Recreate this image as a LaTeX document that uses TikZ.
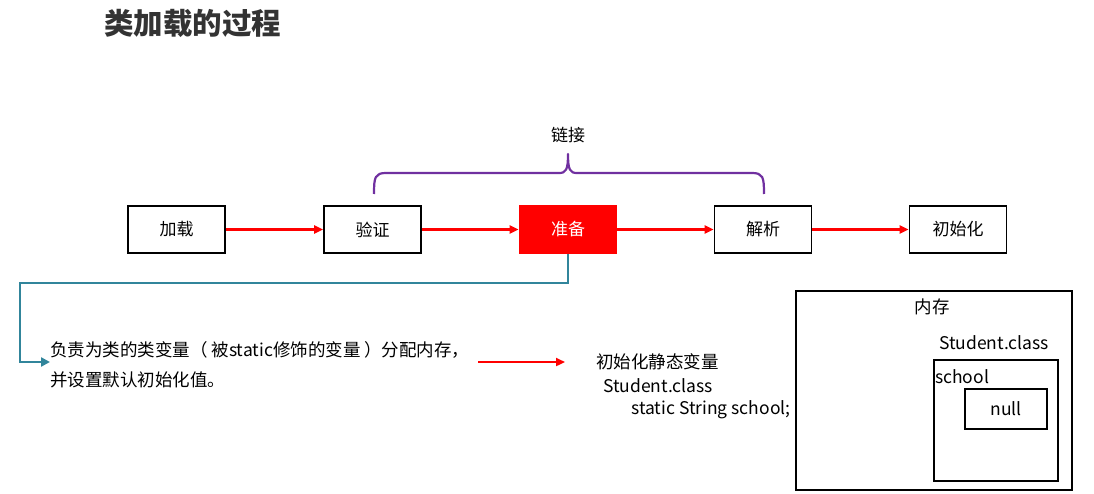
\documentclass[tikz,border=0pt]{standalone}
\usepackage{fontspec}
\setmainfont{Noto Sans CJK SC}
\usetikzlibrary{arrows.meta}
\definecolor{linkpurple}{RGB}{112,48,160}
\definecolor{tealline}{RGB}{49,133,155}
\tikzset{
	stage/.style={shape=rectangle,draw,line width=1.6pt,minimum width=97pt,minimum height=47pt,font=\fontsize{17}{19}\selectfont},
	flow/.style={-{Triangle[length=9pt,width=8pt]},red,line width=2.4pt},
	txt/.style={anchor=west,inner sep=0pt,font=\fontsize{17.5}{20}\selectfont},
	frame/.style={draw,line width=1.6pt,inner sep=0pt},
}
\begin{document}
\begin{tikzpicture}[x=1pt,y=-1pt]
	\useasboundingbox (0,0) rectangle (1094,494);
	\node[anchor=west,inner sep=0pt,font=\fontsize{29.5}{32}\selectfont\bfseries,color=black!80](title) at (104,23){类加载的过程};
	% 五个阶段
	\node[stage](load) at (176.5,229.5){加载};
	\node[stage](verify) at (372.5,229.5){验证};
	\node[stage,fill=red,draw=red,text=white](prepare) at (568,229.5){准备};
	\node[stage](resolve) at (763,229.5){解析};
	\node[stage](init) at (958,229.5){初始化};
	\draw[flow] (load) -- (verify);
	\draw[flow] (verify) -- (prepare);
	\draw[flow] (prepare) -- (resolve);
	\draw[flow] (resolve) -- (init);
	% 链接
	\coordinate (bl) at (374,194);
	\coordinate (bt) at (568,154);
	\coordinate (br) at (764,194);
	\draw[linkpurple,line width=2.2pt,line join=round]
		(bl) .. controls (374,177) and (375,173) .. (386,173) -- (559,173)
		.. controls (566,173) and (568,170) .. (bt)
		.. controls (568,170) and (570,173) .. (577,173) -- (752,173)
		.. controls (763,173) and (764,177) .. (br);
	\node[font=\fontsize{17}{19}\selectfont](link) at (568,135){链接};
	% 准备 -> 说明
	\node[txt](desc1) at (50,350){负责为类的类变量（ 被static修饰的变量 ）分配内存，};
	\node[txt](desc2) at (50,380){并设置默认初始化值。};
	\draw[tealline,line width=2.4pt,-{Triangle[length=9pt,width=9pt]}] (prepare.south) |- (20,283) |- (desc1.west |- 0,362);
	\coordinate (ra) at (478,362);
	\coordinate (rb) at (565,362);
	\draw[flow] (ra) -- (rb);
	\node[txt](s1) at (596,362){初始化静态变量};
	\node[txt](s2) at (603,386){Student.class};
	\node[txt](s3) at (631,410){static String school;};
	% 内存
	\node[frame,minimum width=276pt,minimum height=199pt](mem) at (934,390.5){};
	\node[font=\fontsize{17.5}{20}\selectfont](memlbl) at (932,307){内存};
	\node[font=\fontsize{17.5}{20}\selectfont](cls) at (994,343){Student.class};
	\node[frame,minimum width=124pt,minimum height=121pt](clsbox) at (996,420.5){};
	\node[txt](field) at (935,377){school};
	\node[frame,minimum width=82pt,minimum height=40pt,font=\fontsize{17.5}{20}\selectfont](val) at (1006,409){null};
\end{tikzpicture}
\end{document}
